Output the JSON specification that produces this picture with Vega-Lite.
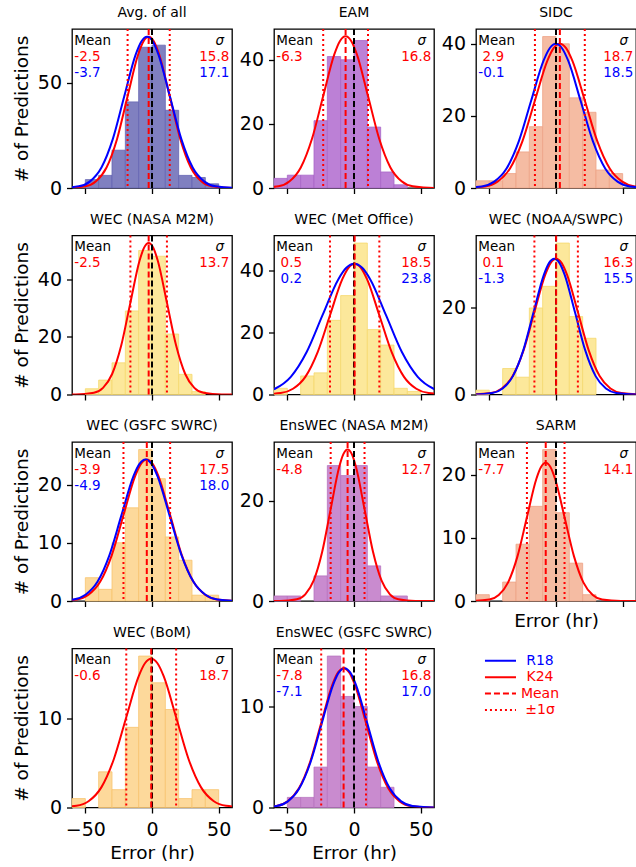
{
"$schema": "https://vega.github.io/schema/vega-lite/v6.json",
"autosize": "none",
"padding": {"left": 72, "top": 29, "right": 564, "bottom": 838},
"config": {
 "font": "DejaVu Sans",
 "view": {"stroke": "#000000", "strokeWidth": 1.3},
 "axis": {"grid": false, "domain": false, "tickColor": "#000000", "tickSize": 5.5, "tickWidth": 1.3, "labelFontSize": 19, "labelColor": "#000000", "titleFontSize": 18.5, "titleFontWeight": "normal", "titleColor": "#000000", "labelFlush": false, "labelOverlap": false},
 "axisX": {"labelPadding": 7, "titlePadding": 4},
 "axisY": {"labelPadding": 5, "titlePadding": 6},
 "title": {"fontSize": 14, "fontWeight": "normal", "anchor": "middle", "frame": "group", "offset": 8, "baseline": "alphabetic", "color": "#000000"}
},
"datasets": {
 "hist": [
  {"p":1,"x":-50,"x2":-40,"y":4},{"p":1,"x":-40,"x2":-30,"y":6},{"p":1,"x":-30,"x2":-20,"y":18},{"p":1,"x":-20,"x2":-10,"y":41},{"p":1,"x":-10,"x2":0,"y":67},{"p":1,"x":0,"x2":10,"y":68},{"p":1,"x":10,"x2":20,"y":37},{"p":1,"x":20,"x2":30,"y":6},{"p":1,"x":30,"x2":40,"y":5},{"p":1,"x":40,"x2":50,"y":2},
  {"p":2,"x":-60,"x2":-50,"y":3},{"p":2,"x":-50,"x2":-40,"y":4},{"p":2,"x":-40,"x2":-30,"y":4},{"p":2,"x":-30,"x2":-20,"y":21},{"p":2,"x":-20,"x2":-10,"y":41},{"p":2,"x":-10,"x2":0,"y":40},{"p":2,"x":0,"x2":10,"y":46},{"p":2,"x":10,"x2":20,"y":19},{"p":2,"x":20,"x2":30,"y":5},{"p":2,"x":30,"x2":40,"y":1},
  {"p":3,"x":-60,"x2":-50,"y":2},{"p":3,"x":-50,"x2":-40,"y":2},{"p":3,"x":-40,"x2":-30,"y":4},{"p":3,"x":-30,"x2":-20,"y":10},{"p":3,"x":-20,"x2":-10,"y":17},{"p":3,"x":-10,"x2":0,"y":42},{"p":3,"x":0,"x2":10,"y":40},{"p":3,"x":10,"x2":20,"y":25},{"p":3,"x":20,"x2":30,"y":21},{"p":3,"x":30,"x2":40,"y":5},{"p":3,"x":40,"x2":50,"y":4},
  {"p":4,"x":-50,"x2":-40,"y":2},{"p":4,"x":-40,"x2":-30,"y":5},{"p":4,"x":-30,"x2":-20,"y":11},{"p":4,"x":-20,"x2":-10,"y":29},{"p":4,"x":-10,"x2":0,"y":50},{"p":4,"x":0,"x2":10,"y":48},{"p":4,"x":10,"x2":20,"y":21},{"p":4,"x":20,"x2":30,"y":7},{"p":4,"x":30,"x2":40,"y":1},
  {"p":5,"x":-60,"x2":-50,"y":2},{"p":5,"x":-40,"x2":-30,"y":6},{"p":5,"x":-30,"x2":-20,"y":7},{"p":5,"x":-20,"x2":-10,"y":24},{"p":5,"x":-10,"x2":0,"y":32},{"p":5,"x":0,"x2":10,"y":49},{"p":5,"x":10,"x2":20,"y":21},{"p":5,"x":20,"x2":30,"y":16},{"p":5,"x":30,"x2":40,"y":2},{"p":5,"x":40,"x2":50,"y":1},
  {"p":6,"x":-60,"x2":-50,"y":1},{"p":6,"x":-40,"x2":-30,"y":6},{"p":6,"x":-30,"x2":-20,"y":4},{"p":6,"x":-20,"x2":-10,"y":20},{"p":6,"x":-10,"x2":0,"y":25},{"p":6,"x":0,"x2":10,"y":35},{"p":6,"x":10,"x2":20,"y":18},{"p":6,"x":20,"x2":30,"y":13},
  {"p":7,"x":-50,"x2":-40,"y":4},{"p":7,"x":-40,"x2":-30,"y":2},{"p":7,"x":-30,"x2":-20,"y":10},{"p":7,"x":-20,"x2":-10,"y":16},{"p":7,"x":-10,"x2":0,"y":26},{"p":7,"x":0,"x2":10,"y":21},{"p":7,"x":10,"x2":20,"y":11},{"p":7,"x":20,"x2":30,"y":7},{"p":7,"x":30,"x2":40,"y":1},{"p":7,"x":40,"x2":50,"y":1},
  {"p":8,"x":-60,"x2":-50,"y":1},{"p":8,"x":-50,"x2":-40,"y":1},{"p":8,"x":-30,"x2":-20,"y":5},{"p":8,"x":-20,"x2":-10,"y":27},{"p":8,"x":-10,"x2":0,"y":25},{"p":8,"x":0,"x2":10,"y":27},{"p":8,"x":10,"x2":20,"y":7},{"p":8,"x":20,"x2":30,"y":1},{"p":8,"x":30,"x2":40,"y":1},
  {"p":9,"x":-60,"x2":-50,"y":1},{"p":9,"x":-40,"x2":-30,"y":3},{"p":9,"x":-30,"x2":-20,"y":9},{"p":9,"x":-20,"x2":-10,"y":15},{"p":9,"x":-10,"x2":0,"y":24},{"p":9,"x":0,"x2":10,"y":14},{"p":9,"x":10,"x2":20,"y":6},{"p":9,"x":20,"x2":30,"y":1},
  {"p":10,"x":-60,"x2":-50,"y":1},{"p":10,"x":-40,"x2":-30,"y":4},{"p":10,"x":-30,"x2":-20,"y":2},{"p":10,"x":-20,"x2":-10,"y":9},{"p":10,"x":-10,"x2":0,"y":17},{"p":10,"x":0,"x2":10,"y":14},{"p":10,"x":10,"x2":20,"y":11},{"p":10,"x":20,"x2":30,"y":1},{"p":10,"x":30,"x2":40,"y":2},{"p":10,"x":40,"x2":50,"y":2},
  {"p":11,"x":-50,"x2":-40,"y":1},{"p":11,"x":-40,"x2":-30,"y":1},{"p":11,"x":-30,"x2":-20,"y":4},{"p":11,"x":-20,"x2":-10,"y":15},{"p":11,"x":-10,"x2":0,"y":11},{"p":11,"x":0,"x2":10,"y":10},{"p":11,"x":10,"x2":20,"y":4},{"p":11,"x":20,"x2":30,"y":2}
 ],
 "curves": [
  {"p":1,"s":"K24","x":-89.4,"y":0},{"p":1,"s":"K24","x":-65.7,"y":0.02},{"p":1,"s":"K24","x":-49.9,"y":0.8},{"p":1,"s":"K24","x":-42,"y":3.16},{"p":1,"s":"K24","x":-34.1,"y":9.74},{"p":1,"s":"K24","x":-26.2,"y":23.37},{"p":1,"s":"K24","x":-18.3,"y":43.67},{"p":1,"s":"K24","x":-10.4,"y":63.54},{"p":1,"s":"K24","x":-6.45,"y":69.78},{"p":1,"s":"K24","x":-2.5,"y":72},{"p":1,"s":"K24","x":1.45,"y":69.78},{"p":1,"s":"K24","x":5.4,"y":63.54},{"p":1,"s":"K24","x":13.3,"y":43.67},{"p":1,"s":"K24","x":21.2,"y":23.37},{"p":1,"s":"K24","x":29.1,"y":9.74},{"p":1,"s":"K24","x":37,"y":3.16},{"p":1,"s":"K24","x":44.9,"y":0.8},{"p":1,"s":"K24","x":60.7,"y":0.02},{"p":1,"s":"K24","x":84.4,"y":0},
  {"p":1,"s":"R18","x":-97.75,"y":0},{"p":1,"s":"R18","x":-72.1,"y":0.02},{"p":1,"s":"R18","x":-55,"y":0.8},{"p":1,"s":"R18","x":-46.45,"y":3.16},{"p":1,"s":"R18","x":-37.9,"y":9.74},{"p":1,"s":"R18","x":-29.35,"y":23.37},{"p":1,"s":"R18","x":-20.8,"y":43.67},{"p":1,"s":"R18","x":-12.25,"y":63.54},{"p":1,"s":"R18","x":-7.975,"y":69.78},{"p":1,"s":"R18","x":-3.7,"y":72},{"p":1,"s":"R18","x":0.575,"y":69.78},{"p":1,"s":"R18","x":4.85,"y":63.54},{"p":1,"s":"R18","x":13.4,"y":43.67},{"p":1,"s":"R18","x":21.95,"y":23.37},{"p":1,"s":"R18","x":30.5,"y":9.74},{"p":1,"s":"R18","x":39.05,"y":3.16},{"p":1,"s":"R18","x":47.6,"y":0.8},{"p":1,"s":"R18","x":64.7,"y":0.02},{"p":1,"s":"R18","x":90.35,"y":0},
  {"p":2,"s":"K24","x":-98.7,"y":0},{"p":2,"s":"K24","x":-73.5,"y":0.02},{"p":2,"s":"K24","x":-56.7,"y":0.53},{"p":2,"s":"K24","x":-48.3,"y":2.08},{"p":2,"s":"K24","x":-39.9,"y":6.4},{"p":2,"s":"K24","x":-31.5,"y":15.36},{"p":2,"s":"K24","x":-23.1,"y":28.69},{"p":2,"s":"K24","x":-14.7,"y":41.74},{"p":2,"s":"K24","x":-10.5,"y":45.84},{"p":2,"s":"K24","x":-6.3,"y":47.3},{"p":2,"s":"K24","x":-2.1,"y":45.84},{"p":2,"s":"K24","x":2.1,"y":41.74},{"p":2,"s":"K24","x":10.5,"y":28.69},{"p":2,"s":"K24","x":18.9,"y":15.36},{"p":2,"s":"K24","x":27.3,"y":6.4},{"p":2,"s":"K24","x":35.7,"y":2.08},{"p":2,"s":"K24","x":44.1,"y":0.53},{"p":2,"s":"K24","x":60.9,"y":0.02},{"p":2,"s":"K24","x":86.1,"y":0},
  {"p":3,"s":"K24","x":-99.95,"y":0},{"p":3,"s":"K24","x":-71.9,"y":0.01},{"p":3,"s":"K24","x":-53.2,"y":0.44},{"p":3,"s":"K24","x":-43.85,"y":1.76},{"p":3,"s":"K24","x":-34.5,"y":5.41},{"p":3,"s":"K24","x":-25.15,"y":12.99},{"p":3,"s":"K24","x":-15.8,"y":24.26},{"p":3,"s":"K24","x":-6.45,"y":35.3},{"p":3,"s":"K24","x":-1.775,"y":38.77},{"p":3,"s":"K24","x":2.9,"y":40},{"p":3,"s":"K24","x":7.575,"y":38.77},{"p":3,"s":"K24","x":12.25,"y":35.3},{"p":3,"s":"K24","x":21.6,"y":24.26},{"p":3,"s":"K24","x":30.95,"y":12.99},{"p":3,"s":"K24","x":40.3,"y":5.41},{"p":3,"s":"K24","x":49.65,"y":1.76},{"p":3,"s":"K24","x":59,"y":0.44},{"p":3,"s":"K24","x":77.7,"y":0.01},{"p":3,"s":"K24","x":105.75,"y":0},
  {"p":3,"s":"R18","x":-101.85,"y":0},{"p":3,"s":"R18","x":-74.1,"y":0.01},{"p":3,"s":"R18","x":-55.6,"y":0.44},{"p":3,"s":"R18","x":-46.35,"y":1.76},{"p":3,"s":"R18","x":-37.1,"y":5.41},{"p":3,"s":"R18","x":-27.85,"y":12.99},{"p":3,"s":"R18","x":-18.6,"y":24.26},{"p":3,"s":"R18","x":-9.35,"y":35.3},{"p":3,"s":"R18","x":-4.725,"y":38.77},{"p":3,"s":"R18","x":-0.1,"y":40},{"p":3,"s":"R18","x":4.525,"y":38.77},{"p":3,"s":"R18","x":9.15,"y":35.3},{"p":3,"s":"R18","x":18.4,"y":24.26},{"p":3,"s":"R18","x":27.65,"y":12.99},{"p":3,"s":"R18","x":36.9,"y":5.41},{"p":3,"s":"R18","x":46.15,"y":1.76},{"p":3,"s":"R18","x":55.4,"y":0.44},{"p":3,"s":"R18","x":73.9,"y":0.01},{"p":3,"s":"R18","x":101.65,"y":0},
  {"p":4,"s":"K24","x":-77.85,"y":0},{"p":4,"s":"K24","x":-57.3,"y":0.02},{"p":4,"s":"K24","x":-43.6,"y":0.58},{"p":4,"s":"K24","x":-36.75,"y":2.31},{"p":4,"s":"K24","x":-29.9,"y":7.12},{"p":4,"s":"K24","x":-23.05,"y":17.08},{"p":4,"s":"K24","x":-16.2,"y":31.9},{"p":4,"s":"K24","x":-9.35,"y":46.42},{"p":4,"s":"K24","x":-5.925,"y":50.98},{"p":4,"s":"K24","x":-2.5,"y":52.6},{"p":4,"s":"K24","x":0.925,"y":50.98},{"p":4,"s":"K24","x":4.35,"y":46.42},{"p":4,"s":"K24","x":11.2,"y":31.9},{"p":4,"s":"K24","x":18.05,"y":17.08},{"p":4,"s":"K24","x":24.9,"y":7.12},{"p":4,"s":"K24","x":31.75,"y":2.31},{"p":4,"s":"K24","x":38.6,"y":0.58},{"p":4,"s":"K24","x":52.3,"y":0.02},{"p":4,"s":"K24","x":72.85,"y":0},
  {"p":5,"s":"K24","x":-101.25,"y":0},{"p":5,"s":"K24","x":-73.5,"y":0.01},{"p":5,"s":"K24","x":-55,"y":0.47},{"p":5,"s":"K24","x":-45.75,"y":1.86},{"p":5,"s":"K24","x":-36.5,"y":5.72},{"p":5,"s":"K24","x":-27.25,"y":13.73},{"p":5,"s":"K24","x":-18,"y":25.66},{"p":5,"s":"K24","x":-8.75,"y":37.33},{"p":5,"s":"K24","x":-4.125,"y":41},{"p":5,"s":"K24","x":0.5,"y":42.3},{"p":5,"s":"K24","x":5.125,"y":41},{"p":5,"s":"K24","x":9.75,"y":37.33},{"p":5,"s":"K24","x":19,"y":25.66},{"p":5,"s":"K24","x":28.25,"y":13.73},{"p":5,"s":"K24","x":37.5,"y":5.72},{"p":5,"s":"K24","x":46.75,"y":1.86},{"p":5,"s":"K24","x":56,"y":0.47},{"p":5,"s":"K24","x":74.5,"y":0.01},{"p":5,"s":"K24","x":102.25,"y":0},
  {"p":5,"s":"R18","x":-130.7,"y":0},{"p":5,"s":"R18","x":-95,"y":0.01},{"p":5,"s":"R18","x":-71.2,"y":0.47},{"p":5,"s":"R18","x":-59.3,"y":1.86},{"p":5,"s":"R18","x":-47.4,"y":5.72},{"p":5,"s":"R18","x":-35.5,"y":13.73},{"p":5,"s":"R18","x":-23.6,"y":25.66},{"p":5,"s":"R18","x":-11.7,"y":37.33},{"p":5,"s":"R18","x":-5.75,"y":41},{"p":5,"s":"R18","x":0.2,"y":42.3},{"p":5,"s":"R18","x":6.15,"y":41},{"p":5,"s":"R18","x":12.1,"y":37.33},{"p":5,"s":"R18","x":24,"y":25.66},{"p":5,"s":"R18","x":35.9,"y":13.73},{"p":5,"s":"R18","x":47.8,"y":5.72},{"p":5,"s":"R18","x":59.7,"y":1.86},{"p":5,"s":"R18","x":71.6,"y":0.47},{"p":5,"s":"R18","x":95.4,"y":0.01},{"p":5,"s":"R18","x":131.1,"y":0},
  {"p":6,"s":"K24","x":-89.55,"y":0},{"p":6,"s":"K24","x":-65.1,"y":0.01},{"p":6,"s":"K24","x":-48.8,"y":0.35},{"p":6,"s":"K24","x":-40.65,"y":1.38},{"p":6,"s":"K24","x":-32.5,"y":4.25},{"p":6,"s":"K24","x":-24.35,"y":10.19},{"p":6,"s":"K24","x":-16.2,"y":19.05},{"p":6,"s":"K24","x":-8.05,"y":27.71},{"p":6,"s":"K24","x":-3.975,"y":30.43},{"p":6,"s":"K24","x":0.1,"y":31.4},{"p":6,"s":"K24","x":4.175,"y":30.43},{"p":6,"s":"K24","x":8.25,"y":27.71},{"p":6,"s":"K24","x":16.4,"y":19.05},{"p":6,"s":"K24","x":24.55,"y":10.19},{"p":6,"s":"K24","x":32.7,"y":4.25},{"p":6,"s":"K24","x":40.85,"y":1.38},{"p":6,"s":"K24","x":49,"y":0.35},{"p":6,"s":"K24","x":65.3,"y":0.01},{"p":6,"s":"K24","x":89.75,"y":0},
  {"p":6,"s":"R18","x":-86.55,"y":0},{"p":6,"s":"R18","x":-63.3,"y":0.01},{"p":6,"s":"R18","x":-47.8,"y":0.35},{"p":6,"s":"R18","x":-40.05,"y":1.38},{"p":6,"s":"R18","x":-32.3,"y":4.25},{"p":6,"s":"R18","x":-24.55,"y":10.19},{"p":6,"s":"R18","x":-16.8,"y":19.05},{"p":6,"s":"R18","x":-9.05,"y":27.71},{"p":6,"s":"R18","x":-5.175,"y":30.43},{"p":6,"s":"R18","x":-1.3,"y":31.4},{"p":6,"s":"R18","x":2.575,"y":30.43},{"p":6,"s":"R18","x":6.45,"y":27.71},{"p":6,"s":"R18","x":14.2,"y":19.05},{"p":6,"s":"R18","x":21.95,"y":10.19},{"p":6,"s":"R18","x":29.7,"y":4.25},{"p":6,"s":"R18","x":37.45,"y":1.38},{"p":6,"s":"R18","x":45.2,"y":0.35},{"p":6,"s":"R18","x":60.7,"y":0.01},{"p":6,"s":"R18","x":83.95,"y":0},
  {"p":7,"s":"K24","x":-100.15,"y":0},{"p":7,"s":"K24","x":-73.9,"y":0.01},{"p":7,"s":"K24","x":-56.4,"y":0.27},{"p":7,"s":"K24","x":-47.65,"y":1.07},{"p":7,"s":"K24","x":-38.9,"y":3.29},{"p":7,"s":"K24","x":-30.15,"y":7.89},{"p":7,"s":"K24","x":-21.4,"y":14.74},{"p":7,"s":"K24","x":-12.65,"y":21.45},{"p":7,"s":"K24","x":-8.275,"y":23.55},{"p":7,"s":"K24","x":-3.9,"y":24.3},{"p":7,"s":"K24","x":0.475,"y":23.55},{"p":7,"s":"K24","x":4.85,"y":21.45},{"p":7,"s":"K24","x":13.6,"y":14.74},{"p":7,"s":"K24","x":22.35,"y":7.89},{"p":7,"s":"K24","x":31.1,"y":3.29},{"p":7,"s":"K24","x":39.85,"y":1.07},{"p":7,"s":"K24","x":48.6,"y":0.27},{"p":7,"s":"K24","x":66.1,"y":0.01},{"p":7,"s":"K24","x":92.35,"y":0},
  {"p":7,"s":"R18","x":-103.9,"y":0},{"p":7,"s":"R18","x":-76.9,"y":0.01},{"p":7,"s":"R18","x":-58.9,"y":0.27},{"p":7,"s":"R18","x":-49.9,"y":1.07},{"p":7,"s":"R18","x":-40.9,"y":3.29},{"p":7,"s":"R18","x":-31.9,"y":7.89},{"p":7,"s":"R18","x":-22.9,"y":14.74},{"p":7,"s":"R18","x":-13.9,"y":21.45},{"p":7,"s":"R18","x":-9.4,"y":23.55},{"p":7,"s":"R18","x":-4.9,"y":24.3},{"p":7,"s":"R18","x":-0.4,"y":23.55},{"p":7,"s":"R18","x":4.1,"y":21.45},{"p":7,"s":"R18","x":13.1,"y":14.74},{"p":7,"s":"R18","x":22.1,"y":7.89},{"p":7,"s":"R18","x":31.1,"y":3.29},{"p":7,"s":"R18","x":40.1,"y":1.07},{"p":7,"s":"R18","x":49.1,"y":0.27},{"p":7,"s":"R18","x":67.1,"y":0.01},{"p":7,"s":"R18","x":94.1,"y":0},
  {"p":8,"s":"K24","x":-74.65,"y":0},{"p":8,"s":"K24","x":-55.6,"y":0.01},{"p":8,"s":"K24","x":-42.9,"y":0.34},{"p":8,"s":"K24","x":-36.55,"y":1.33},{"p":8,"s":"K24","x":-30.2,"y":4.09},{"p":8,"s":"K24","x":-23.85,"y":9.8},{"p":8,"s":"K24","x":-17.5,"y":18.32},{"p":8,"s":"K24","x":-11.15,"y":26.65},{"p":8,"s":"K24","x":-7.975,"y":29.27},{"p":8,"s":"K24","x":-4.8,"y":30.2},{"p":8,"s":"K24","x":-1.625,"y":29.27},{"p":8,"s":"K24","x":1.55,"y":26.65},{"p":8,"s":"K24","x":7.9,"y":18.32},{"p":8,"s":"K24","x":14.25,"y":9.8},{"p":8,"s":"K24","x":20.6,"y":4.09},{"p":8,"s":"K24","x":26.95,"y":1.33},{"p":8,"s":"K24","x":33.3,"y":0.34},{"p":8,"s":"K24","x":46,"y":0.01},{"p":8,"s":"K24","x":65.05,"y":0},
  {"p":9,"s":"K24","x":-85.25,"y":0},{"p":9,"s":"K24","x":-64.1,"y":0.01},{"p":9,"s":"K24","x":-50,"y":0.24},{"p":9,"s":"K24","x":-42.95,"y":0.96},{"p":9,"s":"K24","x":-35.9,"y":2.96},{"p":9,"s":"K24","x":-28.85,"y":7.11},{"p":9,"s":"K24","x":-21.8,"y":13.28},{"p":9,"s":"K24","x":-14.75,"y":19.33},{"p":9,"s":"K24","x":-11.225,"y":21.23},{"p":9,"s":"K24","x":-7.7,"y":21.9},{"p":9,"s":"K24","x":-4.175,"y":21.23},{"p":9,"s":"K24","x":-0.65,"y":19.33},{"p":9,"s":"K24","x":6.4,"y":13.28},{"p":9,"s":"K24","x":13.45,"y":7.11},{"p":9,"s":"K24","x":20.5,"y":2.96},{"p":9,"s":"K24","x":27.55,"y":0.96},{"p":9,"s":"K24","x":34.6,"y":0.24},{"p":9,"s":"K24","x":48.7,"y":0.01},{"p":9,"s":"K24","x":69.85,"y":0},
  {"p":10,"s":"K24","x":-103.45,"y":0},{"p":10,"s":"K24","x":-75.4,"y":0.01},{"p":10,"s":"K24","x":-56.7,"y":0.19},{"p":10,"s":"K24","x":-47.35,"y":0.73},{"p":10,"s":"K24","x":-38,"y":2.26},{"p":10,"s":"K24","x":-28.65,"y":5.42},{"p":10,"s":"K24","x":-19.3,"y":10.13},{"p":10,"s":"K24","x":-9.95,"y":14.74},{"p":10,"s":"K24","x":-5.275,"y":16.19},{"p":10,"s":"K24","x":-0.6,"y":16.7},{"p":10,"s":"K24","x":4.075,"y":16.19},{"p":10,"s":"K24","x":8.75,"y":14.74},{"p":10,"s":"K24","x":18.1,"y":10.13},{"p":10,"s":"K24","x":27.45,"y":5.42},{"p":10,"s":"K24","x":36.8,"y":2.26},{"p":10,"s":"K24","x":46.15,"y":0.73},{"p":10,"s":"K24","x":55.5,"y":0.19},{"p":10,"s":"K24","x":74.2,"y":0.01},{"p":10,"s":"K24","x":102.25,"y":0},
  {"p":11,"s":"K24","x":-100.2,"y":0},{"p":11,"s":"K24","x":-75,"y":0},{"p":11,"s":"K24","x":-58.2,"y":0.15},{"p":11,"s":"K24","x":-49.8,"y":0.61},{"p":11,"s":"K24","x":-41.4,"y":1.87},{"p":11,"s":"K24","x":-33,"y":4.48},{"p":11,"s":"K24","x":-24.6,"y":8.37},{"p":11,"s":"K24","x":-16.2,"y":12.18},{"p":11,"s":"K24","x":-12,"y":13.38},{"p":11,"s":"K24","x":-7.8,"y":13.8},{"p":11,"s":"K24","x":-3.6,"y":13.38},{"p":11,"s":"K24","x":0.6,"y":12.18},{"p":11,"s":"K24","x":9,"y":8.37},{"p":11,"s":"K24","x":17.4,"y":4.48},{"p":11,"s":"K24","x":25.8,"y":1.87},{"p":11,"s":"K24","x":34.2,"y":0.61},{"p":11,"s":"K24","x":42.6,"y":0.15},{"p":11,"s":"K24","x":59.4,"y":0},{"p":11,"s":"K24","x":84.6,"y":0},
  {"p":11,"s":"R18","x":-100.6,"y":0},{"p":11,"s":"R18","x":-75.1,"y":0},{"p":11,"s":"R18","x":-58.1,"y":0.15},{"p":11,"s":"R18","x":-49.6,"y":0.61},{"p":11,"s":"R18","x":-41.1,"y":1.87},{"p":11,"s":"R18","x":-32.6,"y":4.48},{"p":11,"s":"R18","x":-24.1,"y":8.37},{"p":11,"s":"R18","x":-15.6,"y":12.18},{"p":11,"s":"R18","x":-11.35,"y":13.38},{"p":11,"s":"R18","x":-7.1,"y":13.8},{"p":11,"s":"R18","x":-2.85,"y":13.38},{"p":11,"s":"R18","x":1.4,"y":12.18},{"p":11,"s":"R18","x":9.9,"y":8.37},{"p":11,"s":"R18","x":18.4,"y":4.48},{"p":11,"s":"R18","x":26.9,"y":1.87},{"p":11,"s":"R18","x":35.4,"y":0.61},{"p":11,"s":"R18","x":43.9,"y":0.15},{"p":11,"s":"R18","x":60.9,"y":0},{"p":11,"s":"R18","x":86.4,"y":0}
 ],
 "vl": [
  {"p":1,"s":"Mean","x":-2.5},{"p":1,"s":"±1σ","x":-18.3},{"p":1,"s":"±1σ","x":13.3},
  {"p":2,"s":"Mean","x":-6.3},{"p":2,"s":"±1σ","x":-23.1},{"p":2,"s":"±1σ","x":10.5},
  {"p":3,"s":"Mean","x":2.9},{"p":3,"s":"±1σ","x":-15.8},{"p":3,"s":"±1σ","x":21.6},
  {"p":4,"s":"Mean","x":-2.5},{"p":4,"s":"±1σ","x":-16.2},{"p":4,"s":"±1σ","x":11.2},
  {"p":5,"s":"Mean","x":0.5},{"p":5,"s":"±1σ","x":-18},{"p":5,"s":"±1σ","x":19},
  {"p":6,"s":"Mean","x":0.1},{"p":6,"s":"±1σ","x":-16.2},{"p":6,"s":"±1σ","x":16.4},
  {"p":7,"s":"Mean","x":-3.9},{"p":7,"s":"±1σ","x":-21.4},{"p":7,"s":"±1σ","x":13.6},
  {"p":8,"s":"Mean","x":-4.8},{"p":8,"s":"±1σ","x":-17.5},{"p":8,"s":"±1σ","x":7.9},
  {"p":9,"s":"Mean","x":-7.7},{"p":9,"s":"±1σ","x":-21.8},{"p":9,"s":"±1σ","x":6.4},
  {"p":10,"s":"Mean","x":-0.6},{"p":10,"s":"±1σ","x":-19.3},{"p":10,"s":"±1σ","x":18.1},
  {"p":11,"s":"Mean","x":-7.8},{"p":11,"s":"±1σ","x":-24.6},{"p":11,"s":"±1σ","x":9.0}
 ],
 "ann": [
  {"p":1,"side":"L","line":1,"s":"lab","t":"Mean"},{"p":1,"side":"L","line":2,"s":"K24","t":"-2.5"},{"p":1,"side":"L","line":3,"s":"R18","t":"-3.7"},{"p":1,"side":"S","line":1,"s":"lab","t":"σ"},{"p":1,"side":"R","line":2,"s":"K24","t":"15.8"},{"p":1,"side":"R","line":3,"s":"R18","t":"17.1"},
  {"p":2,"side":"L","line":1,"s":"lab","t":"Mean"},{"p":2,"side":"L","line":2,"s":"K24","t":"-6.3"},{"p":2,"side":"S","line":1,"s":"lab","t":"σ"},{"p":2,"side":"R","line":2,"s":"K24","t":"16.8"},
  {"p":3,"side":"L","line":1,"s":"lab","t":"Mean"},{"p":3,"side":"L","line":2,"s":"K24","t":"\u200b\u00a02.9"},{"p":3,"side":"L","line":3,"s":"R18","t":"-0.1"},{"p":3,"side":"S","line":1,"s":"lab","t":"σ"},{"p":3,"side":"R","line":2,"s":"K24","t":"18.7"},{"p":3,"side":"R","line":3,"s":"R18","t":"18.5"},
  {"p":4,"side":"L","line":1,"s":"lab","t":"Mean"},{"p":4,"side":"L","line":2,"s":"K24","t":"-2.5"},{"p":4,"side":"S","line":1,"s":"lab","t":"σ"},{"p":4,"side":"R","line":2,"s":"K24","t":"13.7"},
  {"p":5,"side":"L","line":1,"s":"lab","t":"Mean"},{"p":5,"side":"L","line":2,"s":"K24","t":"\u200b\u00a00.5"},{"p":5,"side":"L","line":3,"s":"R18","t":"\u200b\u00a00.2"},{"p":5,"side":"S","line":1,"s":"lab","t":"σ"},{"p":5,"side":"R","line":2,"s":"K24","t":"18.5"},{"p":5,"side":"R","line":3,"s":"R18","t":"23.8"},
  {"p":6,"side":"L","line":1,"s":"lab","t":"Mean"},{"p":6,"side":"L","line":2,"s":"K24","t":"\u200b\u00a00.1"},{"p":6,"side":"L","line":3,"s":"R18","t":"-1.3"},{"p":6,"side":"S","line":1,"s":"lab","t":"σ"},{"p":6,"side":"R","line":2,"s":"K24","t":"16.3"},{"p":6,"side":"R","line":3,"s":"R18","t":"15.5"},
  {"p":7,"side":"L","line":1,"s":"lab","t":"Mean"},{"p":7,"side":"L","line":2,"s":"K24","t":"-3.9"},{"p":7,"side":"L","line":3,"s":"R18","t":"-4.9"},{"p":7,"side":"S","line":1,"s":"lab","t":"σ"},{"p":7,"side":"R","line":2,"s":"K24","t":"17.5"},{"p":7,"side":"R","line":3,"s":"R18","t":"18.0"},
  {"p":8,"side":"L","line":1,"s":"lab","t":"Mean"},{"p":8,"side":"L","line":2,"s":"K24","t":"-4.8"},{"p":8,"side":"S","line":1,"s":"lab","t":"σ"},{"p":8,"side":"R","line":2,"s":"K24","t":"12.7"},
  {"p":9,"side":"L","line":1,"s":"lab","t":"Mean"},{"p":9,"side":"L","line":2,"s":"K24","t":"-7.7"},{"p":9,"side":"S","line":1,"s":"lab","t":"σ"},{"p":9,"side":"R","line":2,"s":"K24","t":"14.1"},
  {"p":10,"side":"L","line":1,"s":"lab","t":"Mean"},{"p":10,"side":"L","line":2,"s":"K24","t":"-0.6"},{"p":10,"side":"S","line":1,"s":"lab","t":"σ"},{"p":10,"side":"R","line":2,"s":"K24","t":"18.7"},
  {"p":11,"side":"L","line":1,"s":"lab","t":"Mean"},{"p":11,"side":"L","line":2,"s":"K24","t":"-7.8"},{"p":11,"side":"L","line":3,"s":"R18","t":"-7.1"},{"p":11,"side":"S","line":1,"s":"lab","t":"σ"},{"p":11,"side":"R","line":2,"s":"K24","t":"16.8"},{"p":11,"side":"R","line":3,"s":"R18","t":"17.0"}
 ],
 "leg": [{"s":"R18"},{"s":"K24"},{"s":"Mean"},{"s":"±1σ"}]
},
"columns": 3,
"bounds": "flush",
"spacing": {"row": 47.5, "column": 42},
"concat": [
 {"title":"Avg. of all","width":160,"height":159,"resolve":{"scale":{"x":"independent","y":"independent"}},
  "layer":[
   {"encoding":{"x":{"field":"x","type":"quantitative","scale":{"domain":[-60,60],"nice":false,"zero":false},"axis":{"values":[-50,0,50],"labels":false,"title":null}}},"resolve":{"scale":{"y":"independent"}},
    "layer":[
     {"data":{"name":"hist"},"transform":[{"filter":"datum.p==1"}],"mark":{"type":"bar","fill":"#8080c0","stroke":"#6464b2","strokeWidth":0.8},"encoding":{"x2":{"field":"x2"},"y":{"field":"y","type":"quantitative","scale":{"domain":[0,75.7],"nice":false},"axis":{"values":[0,50],"title":"# of Predictions"}},"y2":{"datum":0}}},
     {"data":{"name":"curves"},"transform":[{"filter":"datum.p==1&&datum.s=='K24'"}],"mark":{"type":"line","interpolate":"monotone","strokeWidth":2,"clip":true,"color":"#ff0000"},"encoding":{"y":{"field":"y","type":"quantitative","scale":{"domain":[0,75.7],"nice":false},"axis":null}}},
     {"data":{"name":"curves"},"transform":[{"filter":"datum.p==1&&datum.s=='R18'"}],"mark":{"type":"line","interpolate":"monotone","strokeWidth":2,"clip":true,"color":"#0000ff"},"encoding":{"y":{"field":"y","type":"quantitative","scale":{"domain":[0,75.7],"nice":false},"axis":null}}},
     {"data":{"name":"vl"},"transform":[{"filter":"datum.p==1&&datum.s=='Mean'"}],"mark":{"type":"rule","color":"#000000","strokeWidth":2,"strokeDash":[6,3]},"encoding":{"x":{"datum":0}}},
     {"data":{"name":"vl"},"transform":[{"filter":"datum.p==1"}],"mark":{"type":"rule","strokeWidth":2},"encoding":{"color":{"field":"s","type":"nominal","scale":{"domain":["R18","K24","Mean","±1σ","lab"],"range":["#0000ff","#ff0000","#ff0000","#ff0000","#000000"]},"legend":null},"strokeDash":{"field":"s","type":"nominal","scale":{"domain":["R18","K24","Mean","±1σ"],"range":[[1,0],[1,0],[6,3],[2,3]]},"legend":null}}}
    ]},
   {"data":{"name":"ann"},"transform":[{"filter":"datum.p==1&&datum.side=='L'"}],"mark":{"type":"text","align":"left","baseline":"alphabetic","fontSize":13.5},"encoding":{"x":{"field":"side","type":"nominal","scale":{"type":"point","domain":["L","R"],"range":[2.3,157.3],"padding":0},"axis":null},"y":{"field":"line","type":"quantitative","scale":{"domain":[0,10],"reverse":true,"nice":false,"zero":false},"axis":null},"text":{"field":"t"},"color":{"field":"s","type":"nominal","scale":{"domain":["R18","K24","Mean","±1σ","lab"],"range":["#0000ff","#ff0000","#ff0000","#ff0000","#000000"]},"legend":null}}},
   {"data":{"name":"ann"},"transform":[{"filter":"datum.p==1&&datum.side=='R'"}],"mark":{"type":"text","align":"right","baseline":"alphabetic","fontSize":13.5},"encoding":{"x":{"field":"side","type":"nominal","scale":{"type":"point","domain":["L","R"],"range":[2.3,157.3],"padding":0},"axis":null},"y":{"field":"line","type":"quantitative","scale":{"domain":[0,10],"reverse":true,"nice":false,"zero":false},"axis":null},"text":{"field":"t"},"color":{"field":"s","type":"nominal","scale":{"domain":["R18","K24","Mean","±1σ","lab"],"range":["#0000ff","#ff0000","#ff0000","#ff0000","#000000"]},"legend":null}}},
   {"data":{"name":"ann"},"transform":[{"filter":"datum.p==1&&datum.side=='S'"}],"mark":{"type":"text","align":"right","baseline":"alphabetic","fontSize":13.5,"fontStyle":"italic"},"encoding":{"x":{"field":"side","type":"nominal","scale":{"type":"point","domain":["S","R"],"range":[152,157.3],"padding":0},"axis":null},"y":{"field":"line","type":"quantitative","scale":{"domain":[0,10],"reverse":true,"nice":false,"zero":false},"axis":null},"text":{"field":"t"},"color":{"field":"s","type":"nominal","scale":{"domain":["R18","K24","Mean","±1σ","lab"],"range":["#0000ff","#ff0000","#ff0000","#ff0000","#000000"]},"legend":null}}}
  ]},
 {"title":"EAM","width":160,"height":159,"resolve":{"scale":{"x":"independent","y":"independent"}},
  "layer":[
   {"encoding":{"x":{"field":"x","type":"quantitative","scale":{"domain":[-60,60],"nice":false,"zero":false},"axis":{"values":[-50,0,50],"labels":false,"title":null}}},"resolve":{"scale":{"y":"independent"}},
    "layer":[
     {"data":{"name":"hist"},"transform":[{"filter":"datum.p==2"}],"mark":{"type":"bar","fill":"#bc80d6","stroke":"#a866c8","strokeWidth":0.8},"encoding":{"x2":{"field":"x2"},"y":{"field":"y","type":"quantitative","scale":{"domain":[0,49.6],"nice":false},"axis":{"values":[0,20,40],"title":null}},"y2":{"datum":0}}},
     {"data":{"name":"curves"},"transform":[{"filter":"datum.p==2&&datum.s=='K24'"}],"mark":{"type":"line","interpolate":"monotone","strokeWidth":2,"clip":true,"color":"#ff0000"},"encoding":{"y":{"field":"y","type":"quantitative","scale":{"domain":[0,49.6],"nice":false},"axis":null}}},
     {"data":{"name":"vl"},"transform":[{"filter":"datum.p==2&&datum.s=='Mean'"}],"mark":{"type":"rule","color":"#000000","strokeWidth":2,"strokeDash":[6,3]},"encoding":{"x":{"datum":0}}},
     {"data":{"name":"vl"},"transform":[{"filter":"datum.p==2"}],"mark":{"type":"rule","strokeWidth":2},"encoding":{"color":{"field":"s","type":"nominal","scale":{"domain":["R18","K24","Mean","±1σ","lab"],"range":["#0000ff","#ff0000","#ff0000","#ff0000","#000000"]},"legend":null},"strokeDash":{"field":"s","type":"nominal","scale":{"domain":["R18","K24","Mean","±1σ"],"range":[[1,0],[1,0],[6,3],[2,3]]},"legend":null}}}
    ]},
   {"data":{"name":"ann"},"transform":[{"filter":"datum.p==2&&datum.side=='L'"}],"mark":{"type":"text","align":"left","baseline":"alphabetic","fontSize":13.5},"encoding":{"x":{"field":"side","type":"nominal","scale":{"type":"point","domain":["L","R"],"range":[2.3,157.3],"padding":0},"axis":null},"y":{"field":"line","type":"quantitative","scale":{"domain":[0,10],"reverse":true,"nice":false,"zero":false},"axis":null},"text":{"field":"t"},"color":{"field":"s","type":"nominal","scale":{"domain":["R18","K24","Mean","±1σ","lab"],"range":["#0000ff","#ff0000","#ff0000","#ff0000","#000000"]},"legend":null}}},
   {"data":{"name":"ann"},"transform":[{"filter":"datum.p==2&&datum.side=='R'"}],"mark":{"type":"text","align":"right","baseline":"alphabetic","fontSize":13.5},"encoding":{"x":{"field":"side","type":"nominal","scale":{"type":"point","domain":["L","R"],"range":[2.3,157.3],"padding":0},"axis":null},"y":{"field":"line","type":"quantitative","scale":{"domain":[0,10],"reverse":true,"nice":false,"zero":false},"axis":null},"text":{"field":"t"},"color":{"field":"s","type":"nominal","scale":{"domain":["R18","K24","Mean","±1σ","lab"],"range":["#0000ff","#ff0000","#ff0000","#ff0000","#000000"]},"legend":null}}},
   {"data":{"name":"ann"},"transform":[{"filter":"datum.p==2&&datum.side=='S'"}],"mark":{"type":"text","align":"right","baseline":"alphabetic","fontSize":13.5,"fontStyle":"italic"},"encoding":{"x":{"field":"side","type":"nominal","scale":{"type":"point","domain":["S","R"],"range":[152,157.3],"padding":0},"axis":null},"y":{"field":"line","type":"quantitative","scale":{"domain":[0,10],"reverse":true,"nice":false,"zero":false},"axis":null},"text":{"field":"t"},"color":{"field":"s","type":"nominal","scale":{"domain":["R18","K24","Mean","±1σ","lab"],"range":["#0000ff","#ff0000","#ff0000","#ff0000","#000000"]},"legend":null}}}
  ]},
 {"title":"SIDC","width":160,"height":159,"resolve":{"scale":{"x":"independent","y":"independent"}},
  "layer":[
   {"encoding":{"x":{"field":"x","type":"quantitative","scale":{"domain":[-60,60],"nice":false,"zero":false},"axis":{"values":[-50,0,50],"labels":false,"title":null}}},"resolve":{"scale":{"y":"independent"}},
    "layer":[
     {"data":{"name":"hist"},"transform":[{"filter":"datum.p==3"}],"mark":{"type":"bar","fill":"#f5bca3","stroke":"#eea386","strokeWidth":0.8},"encoding":{"x2":{"field":"x2"},"y":{"field":"y","type":"quantitative","scale":{"domain":[0,44.1],"nice":false},"axis":{"values":[0,20,40],"title":null}},"y2":{"datum":0}}},
     {"data":{"name":"curves"},"transform":[{"filter":"datum.p==3&&datum.s=='K24'"}],"mark":{"type":"line","interpolate":"monotone","strokeWidth":2,"clip":true,"color":"#ff0000"},"encoding":{"y":{"field":"y","type":"quantitative","scale":{"domain":[0,44.1],"nice":false},"axis":null}}},
     {"data":{"name":"curves"},"transform":[{"filter":"datum.p==3&&datum.s=='R18'"}],"mark":{"type":"line","interpolate":"monotone","strokeWidth":2,"clip":true,"color":"#0000ff"},"encoding":{"y":{"field":"y","type":"quantitative","scale":{"domain":[0,44.1],"nice":false},"axis":null}}},
     {"data":{"name":"vl"},"transform":[{"filter":"datum.p==3&&datum.s=='Mean'"}],"mark":{"type":"rule","color":"#000000","strokeWidth":2,"strokeDash":[6,3]},"encoding":{"x":{"datum":0}}},
     {"data":{"name":"vl"},"transform":[{"filter":"datum.p==3"}],"mark":{"type":"rule","strokeWidth":2},"encoding":{"color":{"field":"s","type":"nominal","scale":{"domain":["R18","K24","Mean","±1σ","lab"],"range":["#0000ff","#ff0000","#ff0000","#ff0000","#000000"]},"legend":null},"strokeDash":{"field":"s","type":"nominal","scale":{"domain":["R18","K24","Mean","±1σ"],"range":[[1,0],[1,0],[6,3],[2,3]]},"legend":null}}}
    ]},
   {"data":{"name":"ann"},"transform":[{"filter":"datum.p==3&&datum.side=='L'"}],"mark":{"type":"text","align":"left","baseline":"alphabetic","fontSize":13.5},"encoding":{"x":{"field":"side","type":"nominal","scale":{"type":"point","domain":["L","R"],"range":[2.3,157.3],"padding":0},"axis":null},"y":{"field":"line","type":"quantitative","scale":{"domain":[0,10],"reverse":true,"nice":false,"zero":false},"axis":null},"text":{"field":"t"},"color":{"field":"s","type":"nominal","scale":{"domain":["R18","K24","Mean","±1σ","lab"],"range":["#0000ff","#ff0000","#ff0000","#ff0000","#000000"]},"legend":null}}},
   {"data":{"name":"ann"},"transform":[{"filter":"datum.p==3&&datum.side=='R'"}],"mark":{"type":"text","align":"right","baseline":"alphabetic","fontSize":13.5},"encoding":{"x":{"field":"side","type":"nominal","scale":{"type":"point","domain":["L","R"],"range":[2.3,157.3],"padding":0},"axis":null},"y":{"field":"line","type":"quantitative","scale":{"domain":[0,10],"reverse":true,"nice":false,"zero":false},"axis":null},"text":{"field":"t"},"color":{"field":"s","type":"nominal","scale":{"domain":["R18","K24","Mean","±1σ","lab"],"range":["#0000ff","#ff0000","#ff0000","#ff0000","#000000"]},"legend":null}}},
   {"data":{"name":"ann"},"transform":[{"filter":"datum.p==3&&datum.side=='S'"}],"mark":{"type":"text","align":"right","baseline":"alphabetic","fontSize":13.5,"fontStyle":"italic"},"encoding":{"x":{"field":"side","type":"nominal","scale":{"type":"point","domain":["S","R"],"range":[152,157.3],"padding":0},"axis":null},"y":{"field":"line","type":"quantitative","scale":{"domain":[0,10],"reverse":true,"nice":false,"zero":false},"axis":null},"text":{"field":"t"},"color":{"field":"s","type":"nominal","scale":{"domain":["R18","K24","Mean","±1σ","lab"],"range":["#0000ff","#ff0000","#ff0000","#ff0000","#000000"]},"legend":null}}}
  ]},
 {"title":"WEC (NASA M2M)","width":160,"height":159,"resolve":{"scale":{"x":"independent","y":"independent"}},
  "layer":[
   {"encoding":{"x":{"field":"x","type":"quantitative","scale":{"domain":[-60,60],"nice":false,"zero":false},"axis":{"values":[-50,0,50],"labels":false,"title":null}}},"resolve":{"scale":{"y":"independent"}},
    "layer":[
     {"data":{"name":"hist"},"transform":[{"filter":"datum.p==4"}],"mark":{"type":"bar","fill":"#fce89b","stroke":"#f5d86f","strokeWidth":0.8},"encoding":{"x2":{"field":"x2"},"y":{"field":"y","type":"quantitative","scale":{"domain":[0,55.2],"nice":false},"axis":{"values":[0,20,40],"title":"# of Predictions"}},"y2":{"datum":0}}},
     {"data":{"name":"curves"},"transform":[{"filter":"datum.p==4&&datum.s=='K24'"}],"mark":{"type":"line","interpolate":"monotone","strokeWidth":2,"clip":true,"color":"#ff0000"},"encoding":{"y":{"field":"y","type":"quantitative","scale":{"domain":[0,55.2],"nice":false},"axis":null}}},
     {"data":{"name":"vl"},"transform":[{"filter":"datum.p==4&&datum.s=='Mean'"}],"mark":{"type":"rule","color":"#000000","strokeWidth":2,"strokeDash":[6,3]},"encoding":{"x":{"datum":0}}},
     {"data":{"name":"vl"},"transform":[{"filter":"datum.p==4"}],"mark":{"type":"rule","strokeWidth":2},"encoding":{"color":{"field":"s","type":"nominal","scale":{"domain":["R18","K24","Mean","±1σ","lab"],"range":["#0000ff","#ff0000","#ff0000","#ff0000","#000000"]},"legend":null},"strokeDash":{"field":"s","type":"nominal","scale":{"domain":["R18","K24","Mean","±1σ"],"range":[[1,0],[1,0],[6,3],[2,3]]},"legend":null}}}
    ]},
   {"data":{"name":"ann"},"transform":[{"filter":"datum.p==4&&datum.side=='L'"}],"mark":{"type":"text","align":"left","baseline":"alphabetic","fontSize":13.5},"encoding":{"x":{"field":"side","type":"nominal","scale":{"type":"point","domain":["L","R"],"range":[2.3,157.3],"padding":0},"axis":null},"y":{"field":"line","type":"quantitative","scale":{"domain":[0,10],"reverse":true,"nice":false,"zero":false},"axis":null},"text":{"field":"t"},"color":{"field":"s","type":"nominal","scale":{"domain":["R18","K24","Mean","±1σ","lab"],"range":["#0000ff","#ff0000","#ff0000","#ff0000","#000000"]},"legend":null}}},
   {"data":{"name":"ann"},"transform":[{"filter":"datum.p==4&&datum.side=='R'"}],"mark":{"type":"text","align":"right","baseline":"alphabetic","fontSize":13.5},"encoding":{"x":{"field":"side","type":"nominal","scale":{"type":"point","domain":["L","R"],"range":[2.3,157.3],"padding":0},"axis":null},"y":{"field":"line","type":"quantitative","scale":{"domain":[0,10],"reverse":true,"nice":false,"zero":false},"axis":null},"text":{"field":"t"},"color":{"field":"s","type":"nominal","scale":{"domain":["R18","K24","Mean","±1σ","lab"],"range":["#0000ff","#ff0000","#ff0000","#ff0000","#000000"]},"legend":null}}},
   {"data":{"name":"ann"},"transform":[{"filter":"datum.p==4&&datum.side=='S'"}],"mark":{"type":"text","align":"right","baseline":"alphabetic","fontSize":13.5,"fontStyle":"italic"},"encoding":{"x":{"field":"side","type":"nominal","scale":{"type":"point","domain":["S","R"],"range":[152,157.3],"padding":0},"axis":null},"y":{"field":"line","type":"quantitative","scale":{"domain":[0,10],"reverse":true,"nice":false,"zero":false},"axis":null},"text":{"field":"t"},"color":{"field":"s","type":"nominal","scale":{"domain":["R18","K24","Mean","±1σ","lab"],"range":["#0000ff","#ff0000","#ff0000","#ff0000","#000000"]},"legend":null}}}
  ]},
 {"title":"WEC (Met Office)","width":160,"height":159,"resolve":{"scale":{"x":"independent","y":"independent"}},
  "layer":[
   {"encoding":{"x":{"field":"x","type":"quantitative","scale":{"domain":[-60,60],"nice":false,"zero":false},"axis":{"values":[-50,0,50],"labels":false,"title":null}}},"resolve":{"scale":{"y":"independent"}},
    "layer":[
     {"data":{"name":"hist"},"transform":[{"filter":"datum.p==5"}],"mark":{"type":"bar","fill":"#fce89b","stroke":"#f5d86f","strokeWidth":0.8},"encoding":{"x2":{"field":"x2"},"y":{"field":"y","type":"quantitative","scale":{"domain":[0,51.45],"nice":false},"axis":{"values":[0,20,40],"title":null}},"y2":{"datum":0}}},
     {"data":{"name":"curves"},"transform":[{"filter":"datum.p==5&&datum.s=='K24'"}],"mark":{"type":"line","interpolate":"monotone","strokeWidth":2,"clip":true,"color":"#ff0000"},"encoding":{"y":{"field":"y","type":"quantitative","scale":{"domain":[0,51.45],"nice":false},"axis":null}}},
     {"data":{"name":"curves"},"transform":[{"filter":"datum.p==5&&datum.s=='R18'"}],"mark":{"type":"line","interpolate":"monotone","strokeWidth":2,"clip":true,"color":"#0000ff"},"encoding":{"y":{"field":"y","type":"quantitative","scale":{"domain":[0,51.45],"nice":false},"axis":null}}},
     {"data":{"name":"vl"},"transform":[{"filter":"datum.p==5&&datum.s=='Mean'"}],"mark":{"type":"rule","color":"#000000","strokeWidth":2,"strokeDash":[6,3]},"encoding":{"x":{"datum":0}}},
     {"data":{"name":"vl"},"transform":[{"filter":"datum.p==5"}],"mark":{"type":"rule","strokeWidth":2},"encoding":{"color":{"field":"s","type":"nominal","scale":{"domain":["R18","K24","Mean","±1σ","lab"],"range":["#0000ff","#ff0000","#ff0000","#ff0000","#000000"]},"legend":null},"strokeDash":{"field":"s","type":"nominal","scale":{"domain":["R18","K24","Mean","±1σ"],"range":[[1,0],[1,0],[6,3],[2,3]]},"legend":null}}}
    ]},
   {"data":{"name":"ann"},"transform":[{"filter":"datum.p==5&&datum.side=='L'"}],"mark":{"type":"text","align":"left","baseline":"alphabetic","fontSize":13.5},"encoding":{"x":{"field":"side","type":"nominal","scale":{"type":"point","domain":["L","R"],"range":[2.3,157.3],"padding":0},"axis":null},"y":{"field":"line","type":"quantitative","scale":{"domain":[0,10],"reverse":true,"nice":false,"zero":false},"axis":null},"text":{"field":"t"},"color":{"field":"s","type":"nominal","scale":{"domain":["R18","K24","Mean","±1σ","lab"],"range":["#0000ff","#ff0000","#ff0000","#ff0000","#000000"]},"legend":null}}},
   {"data":{"name":"ann"},"transform":[{"filter":"datum.p==5&&datum.side=='R'"}],"mark":{"type":"text","align":"right","baseline":"alphabetic","fontSize":13.5},"encoding":{"x":{"field":"side","type":"nominal","scale":{"type":"point","domain":["L","R"],"range":[2.3,157.3],"padding":0},"axis":null},"y":{"field":"line","type":"quantitative","scale":{"domain":[0,10],"reverse":true,"nice":false,"zero":false},"axis":null},"text":{"field":"t"},"color":{"field":"s","type":"nominal","scale":{"domain":["R18","K24","Mean","±1σ","lab"],"range":["#0000ff","#ff0000","#ff0000","#ff0000","#000000"]},"legend":null}}},
   {"data":{"name":"ann"},"transform":[{"filter":"datum.p==5&&datum.side=='S'"}],"mark":{"type":"text","align":"right","baseline":"alphabetic","fontSize":13.5,"fontStyle":"italic"},"encoding":{"x":{"field":"side","type":"nominal","scale":{"type":"point","domain":["S","R"],"range":[152,157.3],"padding":0},"axis":null},"y":{"field":"line","type":"quantitative","scale":{"domain":[0,10],"reverse":true,"nice":false,"zero":false},"axis":null},"text":{"field":"t"},"color":{"field":"s","type":"nominal","scale":{"domain":["R18","K24","Mean","±1σ","lab"],"range":["#0000ff","#ff0000","#ff0000","#ff0000","#000000"]},"legend":null}}}
  ]},
 {"title":"WEC (NOAA/SWPC)","width":160,"height":159,"resolve":{"scale":{"x":"independent","y":"independent"}},
  "layer":[
   {"encoding":{"x":{"field":"x","type":"quantitative","scale":{"domain":[-60,60],"nice":false,"zero":false},"axis":{"values":[-50,0,50],"labels":false,"title":null}}},"resolve":{"scale":{"y":"independent"}},
    "layer":[
     {"data":{"name":"hist"},"transform":[{"filter":"datum.p==6"}],"mark":{"type":"bar","fill":"#fce89b","stroke":"#f5d86f","strokeWidth":0.8},"encoding":{"x2":{"field":"x2"},"y":{"field":"y","type":"quantitative","scale":{"domain":[0,36.75],"nice":false},"axis":{"values":[0,20],"title":null}},"y2":{"datum":0}}},
     {"data":{"name":"curves"},"transform":[{"filter":"datum.p==6&&datum.s=='K24'"}],"mark":{"type":"line","interpolate":"monotone","strokeWidth":2,"clip":true,"color":"#ff0000"},"encoding":{"y":{"field":"y","type":"quantitative","scale":{"domain":[0,36.75],"nice":false},"axis":null}}},
     {"data":{"name":"curves"},"transform":[{"filter":"datum.p==6&&datum.s=='R18'"}],"mark":{"type":"line","interpolate":"monotone","strokeWidth":2,"clip":true,"color":"#0000ff"},"encoding":{"y":{"field":"y","type":"quantitative","scale":{"domain":[0,36.75],"nice":false},"axis":null}}},
     {"data":{"name":"vl"},"transform":[{"filter":"datum.p==6&&datum.s=='Mean'"}],"mark":{"type":"rule","color":"#000000","strokeWidth":2,"strokeDash":[6,3]},"encoding":{"x":{"datum":0}}},
     {"data":{"name":"vl"},"transform":[{"filter":"datum.p==6"}],"mark":{"type":"rule","strokeWidth":2},"encoding":{"color":{"field":"s","type":"nominal","scale":{"domain":["R18","K24","Mean","±1σ","lab"],"range":["#0000ff","#ff0000","#ff0000","#ff0000","#000000"]},"legend":null},"strokeDash":{"field":"s","type":"nominal","scale":{"domain":["R18","K24","Mean","±1σ"],"range":[[1,0],[1,0],[6,3],[2,3]]},"legend":null}}}
    ]},
   {"data":{"name":"ann"},"transform":[{"filter":"datum.p==6&&datum.side=='L'"}],"mark":{"type":"text","align":"left","baseline":"alphabetic","fontSize":13.5},"encoding":{"x":{"field":"side","type":"nominal","scale":{"type":"point","domain":["L","R"],"range":[2.3,157.3],"padding":0},"axis":null},"y":{"field":"line","type":"quantitative","scale":{"domain":[0,10],"reverse":true,"nice":false,"zero":false},"axis":null},"text":{"field":"t"},"color":{"field":"s","type":"nominal","scale":{"domain":["R18","K24","Mean","±1σ","lab"],"range":["#0000ff","#ff0000","#ff0000","#ff0000","#000000"]},"legend":null}}},
   {"data":{"name":"ann"},"transform":[{"filter":"datum.p==6&&datum.side=='R'"}],"mark":{"type":"text","align":"right","baseline":"alphabetic","fontSize":13.5},"encoding":{"x":{"field":"side","type":"nominal","scale":{"type":"point","domain":["L","R"],"range":[2.3,157.3],"padding":0},"axis":null},"y":{"field":"line","type":"quantitative","scale":{"domain":[0,10],"reverse":true,"nice":false,"zero":false},"axis":null},"text":{"field":"t"},"color":{"field":"s","type":"nominal","scale":{"domain":["R18","K24","Mean","±1σ","lab"],"range":["#0000ff","#ff0000","#ff0000","#ff0000","#000000"]},"legend":null}}},
   {"data":{"name":"ann"},"transform":[{"filter":"datum.p==6&&datum.side=='S'"}],"mark":{"type":"text","align":"right","baseline":"alphabetic","fontSize":13.5,"fontStyle":"italic"},"encoding":{"x":{"field":"side","type":"nominal","scale":{"type":"point","domain":["S","R"],"range":[152,157.3],"padding":0},"axis":null},"y":{"field":"line","type":"quantitative","scale":{"domain":[0,10],"reverse":true,"nice":false,"zero":false},"axis":null},"text":{"field":"t"},"color":{"field":"s","type":"nominal","scale":{"domain":["R18","K24","Mean","±1σ","lab"],"range":["#0000ff","#ff0000","#ff0000","#ff0000","#000000"]},"legend":null}}}
  ]},
 {"title":"WEC (GSFC SWRC)","width":160,"height":159,"resolve":{"scale":{"x":"independent","y":"independent"}},
  "layer":[
   {"encoding":{"x":{"field":"x","type":"quantitative","scale":{"domain":[-60,60],"nice":false,"zero":false},"axis":{"values":[-50,0,50],"labels":false,"title":null}}},"resolve":{"scale":{"y":"independent"}},
    "layer":[
     {"data":{"name":"hist"},"transform":[{"filter":"datum.p==7"}],"mark":{"type":"bar","fill":"#fdd99b","stroke":"#f8c46e","strokeWidth":0.8},"encoding":{"x2":{"field":"x2"},"y":{"field":"y","type":"quantitative","scale":{"domain":[0,27.3],"nice":false},"axis":{"values":[0,10,20],"title":"# of Predictions"}},"y2":{"datum":0}}},
     {"data":{"name":"curves"},"transform":[{"filter":"datum.p==7&&datum.s=='K24'"}],"mark":{"type":"line","interpolate":"monotone","strokeWidth":2,"clip":true,"color":"#ff0000"},"encoding":{"y":{"field":"y","type":"quantitative","scale":{"domain":[0,27.3],"nice":false},"axis":null}}},
     {"data":{"name":"curves"},"transform":[{"filter":"datum.p==7&&datum.s=='R18'"}],"mark":{"type":"line","interpolate":"monotone","strokeWidth":2,"clip":true,"color":"#0000ff"},"encoding":{"y":{"field":"y","type":"quantitative","scale":{"domain":[0,27.3],"nice":false},"axis":null}}},
     {"data":{"name":"vl"},"transform":[{"filter":"datum.p==7&&datum.s=='Mean'"}],"mark":{"type":"rule","color":"#000000","strokeWidth":2,"strokeDash":[6,3]},"encoding":{"x":{"datum":0}}},
     {"data":{"name":"vl"},"transform":[{"filter":"datum.p==7"}],"mark":{"type":"rule","strokeWidth":2},"encoding":{"color":{"field":"s","type":"nominal","scale":{"domain":["R18","K24","Mean","±1σ","lab"],"range":["#0000ff","#ff0000","#ff0000","#ff0000","#000000"]},"legend":null},"strokeDash":{"field":"s","type":"nominal","scale":{"domain":["R18","K24","Mean","±1σ"],"range":[[1,0],[1,0],[6,3],[2,3]]},"legend":null}}}
    ]},
   {"data":{"name":"ann"},"transform":[{"filter":"datum.p==7&&datum.side=='L'"}],"mark":{"type":"text","align":"left","baseline":"alphabetic","fontSize":13.5},"encoding":{"x":{"field":"side","type":"nominal","scale":{"type":"point","domain":["L","R"],"range":[2.3,157.3],"padding":0},"axis":null},"y":{"field":"line","type":"quantitative","scale":{"domain":[0,10],"reverse":true,"nice":false,"zero":false},"axis":null},"text":{"field":"t"},"color":{"field":"s","type":"nominal","scale":{"domain":["R18","K24","Mean","±1σ","lab"],"range":["#0000ff","#ff0000","#ff0000","#ff0000","#000000"]},"legend":null}}},
   {"data":{"name":"ann"},"transform":[{"filter":"datum.p==7&&datum.side=='R'"}],"mark":{"type":"text","align":"right","baseline":"alphabetic","fontSize":13.5},"encoding":{"x":{"field":"side","type":"nominal","scale":{"type":"point","domain":["L","R"],"range":[2.3,157.3],"padding":0},"axis":null},"y":{"field":"line","type":"quantitative","scale":{"domain":[0,10],"reverse":true,"nice":false,"zero":false},"axis":null},"text":{"field":"t"},"color":{"field":"s","type":"nominal","scale":{"domain":["R18","K24","Mean","±1σ","lab"],"range":["#0000ff","#ff0000","#ff0000","#ff0000","#000000"]},"legend":null}}},
   {"data":{"name":"ann"},"transform":[{"filter":"datum.p==7&&datum.side=='S'"}],"mark":{"type":"text","align":"right","baseline":"alphabetic","fontSize":13.5,"fontStyle":"italic"},"encoding":{"x":{"field":"side","type":"nominal","scale":{"type":"point","domain":["S","R"],"range":[152,157.3],"padding":0},"axis":null},"y":{"field":"line","type":"quantitative","scale":{"domain":[0,10],"reverse":true,"nice":false,"zero":false},"axis":null},"text":{"field":"t"},"color":{"field":"s","type":"nominal","scale":{"domain":["R18","K24","Mean","±1σ","lab"],"range":["#0000ff","#ff0000","#ff0000","#ff0000","#000000"]},"legend":null}}}
  ]},
 {"title":"EnsWEC (NASA M2M)","width":160,"height":159,"resolve":{"scale":{"x":"independent","y":"independent"}},
  "layer":[
   {"encoding":{"x":{"field":"x","type":"quantitative","scale":{"domain":[-60,60],"nice":false,"zero":false},"axis":{"values":[-50,0,50],"labels":false,"title":null}}},"resolve":{"scale":{"y":"independent"}},
    "layer":[
     {"data":{"name":"hist"},"transform":[{"filter":"datum.p==8"}],"mark":{"type":"bar","fill":"#c98bcf","stroke":"#b874bf","strokeWidth":0.8},"encoding":{"x2":{"field":"x2"},"y":{"field":"y","type":"quantitative","scale":{"domain":[0,31.7],"nice":false},"axis":{"values":[0,20],"title":null}},"y2":{"datum":0}}},
     {"data":{"name":"curves"},"transform":[{"filter":"datum.p==8&&datum.s=='K24'"}],"mark":{"type":"line","interpolate":"monotone","strokeWidth":2,"clip":true,"color":"#ff0000"},"encoding":{"y":{"field":"y","type":"quantitative","scale":{"domain":[0,31.7],"nice":false},"axis":null}}},
     {"data":{"name":"vl"},"transform":[{"filter":"datum.p==8&&datum.s=='Mean'"}],"mark":{"type":"rule","color":"#000000","strokeWidth":2,"strokeDash":[6,3]},"encoding":{"x":{"datum":0}}},
     {"data":{"name":"vl"},"transform":[{"filter":"datum.p==8"}],"mark":{"type":"rule","strokeWidth":2},"encoding":{"color":{"field":"s","type":"nominal","scale":{"domain":["R18","K24","Mean","±1σ","lab"],"range":["#0000ff","#ff0000","#ff0000","#ff0000","#000000"]},"legend":null},"strokeDash":{"field":"s","type":"nominal","scale":{"domain":["R18","K24","Mean","±1σ"],"range":[[1,0],[1,0],[6,3],[2,3]]},"legend":null}}}
    ]},
   {"data":{"name":"ann"},"transform":[{"filter":"datum.p==8&&datum.side=='L'"}],"mark":{"type":"text","align":"left","baseline":"alphabetic","fontSize":13.5},"encoding":{"x":{"field":"side","type":"nominal","scale":{"type":"point","domain":["L","R"],"range":[2.3,157.3],"padding":0},"axis":null},"y":{"field":"line","type":"quantitative","scale":{"domain":[0,10],"reverse":true,"nice":false,"zero":false},"axis":null},"text":{"field":"t"},"color":{"field":"s","type":"nominal","scale":{"domain":["R18","K24","Mean","±1σ","lab"],"range":["#0000ff","#ff0000","#ff0000","#ff0000","#000000"]},"legend":null}}},
   {"data":{"name":"ann"},"transform":[{"filter":"datum.p==8&&datum.side=='R'"}],"mark":{"type":"text","align":"right","baseline":"alphabetic","fontSize":13.5},"encoding":{"x":{"field":"side","type":"nominal","scale":{"type":"point","domain":["L","R"],"range":[2.3,157.3],"padding":0},"axis":null},"y":{"field":"line","type":"quantitative","scale":{"domain":[0,10],"reverse":true,"nice":false,"zero":false},"axis":null},"text":{"field":"t"},"color":{"field":"s","type":"nominal","scale":{"domain":["R18","K24","Mean","±1σ","lab"],"range":["#0000ff","#ff0000","#ff0000","#ff0000","#000000"]},"legend":null}}},
   {"data":{"name":"ann"},"transform":[{"filter":"datum.p==8&&datum.side=='S'"}],"mark":{"type":"text","align":"right","baseline":"alphabetic","fontSize":13.5,"fontStyle":"italic"},"encoding":{"x":{"field":"side","type":"nominal","scale":{"type":"point","domain":["S","R"],"range":[152,157.3],"padding":0},"axis":null},"y":{"field":"line","type":"quantitative","scale":{"domain":[0,10],"reverse":true,"nice":false,"zero":false},"axis":null},"text":{"field":"t"},"color":{"field":"s","type":"nominal","scale":{"domain":["R18","K24","Mean","±1σ","lab"],"range":["#0000ff","#ff0000","#ff0000","#ff0000","#000000"]},"legend":null}}}
  ]},
 {"title":"SARM","width":160,"height":159,"resolve":{"scale":{"x":"independent","y":"independent"}},
  "layer":[
   {"encoding":{"x":{"field":"x","type":"quantitative","scale":{"domain":[-60,60],"nice":false,"zero":false},"axis":{"values":[-50,0,50],"labels":false,"title":"Error (hr)"}}},"resolve":{"scale":{"y":"independent"}},
    "layer":[
     {"data":{"name":"hist"},"transform":[{"filter":"datum.p==9"}],"mark":{"type":"bar","fill":"#f5bca3","stroke":"#eea386","strokeWidth":0.8},"encoding":{"x2":{"field":"x2"},"y":{"field":"y","type":"quantitative","scale":{"domain":[0,25.2],"nice":false},"axis":{"values":[0,10,20],"title":null}},"y2":{"datum":0}}},
     {"data":{"name":"curves"},"transform":[{"filter":"datum.p==9&&datum.s=='K24'"}],"mark":{"type":"line","interpolate":"monotone","strokeWidth":2,"clip":true,"color":"#ff0000"},"encoding":{"y":{"field":"y","type":"quantitative","scale":{"domain":[0,25.2],"nice":false},"axis":null}}},
     {"data":{"name":"vl"},"transform":[{"filter":"datum.p==9&&datum.s=='Mean'"}],"mark":{"type":"rule","color":"#000000","strokeWidth":2,"strokeDash":[6,3]},"encoding":{"x":{"datum":0}}},
     {"data":{"name":"vl"},"transform":[{"filter":"datum.p==9"}],"mark":{"type":"rule","strokeWidth":2},"encoding":{"color":{"field":"s","type":"nominal","scale":{"domain":["R18","K24","Mean","±1σ","lab"],"range":["#0000ff","#ff0000","#ff0000","#ff0000","#000000"]},"legend":null},"strokeDash":{"field":"s","type":"nominal","scale":{"domain":["R18","K24","Mean","±1σ"],"range":[[1,0],[1,0],[6,3],[2,3]]},"legend":null}}}
    ]},
   {"data":{"name":"ann"},"transform":[{"filter":"datum.p==9&&datum.side=='L'"}],"mark":{"type":"text","align":"left","baseline":"alphabetic","fontSize":13.5},"encoding":{"x":{"field":"side","type":"nominal","scale":{"type":"point","domain":["L","R"],"range":[2.3,157.3],"padding":0},"axis":null},"y":{"field":"line","type":"quantitative","scale":{"domain":[0,10],"reverse":true,"nice":false,"zero":false},"axis":null},"text":{"field":"t"},"color":{"field":"s","type":"nominal","scale":{"domain":["R18","K24","Mean","±1σ","lab"],"range":["#0000ff","#ff0000","#ff0000","#ff0000","#000000"]},"legend":null}}},
   {"data":{"name":"ann"},"transform":[{"filter":"datum.p==9&&datum.side=='R'"}],"mark":{"type":"text","align":"right","baseline":"alphabetic","fontSize":13.5},"encoding":{"x":{"field":"side","type":"nominal","scale":{"type":"point","domain":["L","R"],"range":[2.3,157.3],"padding":0},"axis":null},"y":{"field":"line","type":"quantitative","scale":{"domain":[0,10],"reverse":true,"nice":false,"zero":false},"axis":null},"text":{"field":"t"},"color":{"field":"s","type":"nominal","scale":{"domain":["R18","K24","Mean","±1σ","lab"],"range":["#0000ff","#ff0000","#ff0000","#ff0000","#000000"]},"legend":null}}},
   {"data":{"name":"ann"},"transform":[{"filter":"datum.p==9&&datum.side=='S'"}],"mark":{"type":"text","align":"right","baseline":"alphabetic","fontSize":13.5,"fontStyle":"italic"},"encoding":{"x":{"field":"side","type":"nominal","scale":{"type":"point","domain":["S","R"],"range":[152,157.3],"padding":0},"axis":null},"y":{"field":"line","type":"quantitative","scale":{"domain":[0,10],"reverse":true,"nice":false,"zero":false},"axis":null},"text":{"field":"t"},"color":{"field":"s","type":"nominal","scale":{"domain":["R18","K24","Mean","±1σ","lab"],"range":["#0000ff","#ff0000","#ff0000","#ff0000","#000000"]},"legend":null}}}
  ]},
 {"title":"WEC (BoM)","width":160,"height":159,"resolve":{"scale":{"x":"independent","y":"independent"}},
  "layer":[
   {"encoding":{"x":{"field":"x","type":"quantitative","scale":{"domain":[-60,60],"nice":false,"zero":false},"axis":{"values":[-50,0,50],"title":"Error (hr)"}}},"resolve":{"scale":{"y":"independent"}},
    "layer":[
     {"data":{"name":"hist"},"transform":[{"filter":"datum.p==10"}],"mark":{"type":"bar","fill":"#fdd99b","stroke":"#f8c46e","strokeWidth":0.8},"encoding":{"x2":{"field":"x2"},"y":{"field":"y","type":"quantitative","scale":{"domain":[0,17.85],"nice":false},"axis":{"values":[0,10],"title":"# of Predictions"}},"y2":{"datum":0}}},
     {"data":{"name":"curves"},"transform":[{"filter":"datum.p==10&&datum.s=='K24'"}],"mark":{"type":"line","interpolate":"monotone","strokeWidth":2,"clip":true,"color":"#ff0000"},"encoding":{"y":{"field":"y","type":"quantitative","scale":{"domain":[0,17.85],"nice":false},"axis":null}}},
     {"data":{"name":"vl"},"transform":[{"filter":"datum.p==10&&datum.s=='Mean'"}],"mark":{"type":"rule","color":"#000000","strokeWidth":2,"strokeDash":[6,3]},"encoding":{"x":{"datum":0}}},
     {"data":{"name":"vl"},"transform":[{"filter":"datum.p==10"}],"mark":{"type":"rule","strokeWidth":2},"encoding":{"color":{"field":"s","type":"nominal","scale":{"domain":["R18","K24","Mean","±1σ","lab"],"range":["#0000ff","#ff0000","#ff0000","#ff0000","#000000"]},"legend":null},"strokeDash":{"field":"s","type":"nominal","scale":{"domain":["R18","K24","Mean","±1σ"],"range":[[1,0],[1,0],[6,3],[2,3]]},"legend":null}}}
    ]},
   {"data":{"name":"ann"},"transform":[{"filter":"datum.p==10&&datum.side=='L'"}],"mark":{"type":"text","align":"left","baseline":"alphabetic","fontSize":13.5},"encoding":{"x":{"field":"side","type":"nominal","scale":{"type":"point","domain":["L","R"],"range":[2.3,157.3],"padding":0},"axis":null},"y":{"field":"line","type":"quantitative","scale":{"domain":[0,10],"reverse":true,"nice":false,"zero":false},"axis":null},"text":{"field":"t"},"color":{"field":"s","type":"nominal","scale":{"domain":["R18","K24","Mean","±1σ","lab"],"range":["#0000ff","#ff0000","#ff0000","#ff0000","#000000"]},"legend":null}}},
   {"data":{"name":"ann"},"transform":[{"filter":"datum.p==10&&datum.side=='R'"}],"mark":{"type":"text","align":"right","baseline":"alphabetic","fontSize":13.5},"encoding":{"x":{"field":"side","type":"nominal","scale":{"type":"point","domain":["L","R"],"range":[2.3,157.3],"padding":0},"axis":null},"y":{"field":"line","type":"quantitative","scale":{"domain":[0,10],"reverse":true,"nice":false,"zero":false},"axis":null},"text":{"field":"t"},"color":{"field":"s","type":"nominal","scale":{"domain":["R18","K24","Mean","±1σ","lab"],"range":["#0000ff","#ff0000","#ff0000","#ff0000","#000000"]},"legend":null}}},
   {"data":{"name":"ann"},"transform":[{"filter":"datum.p==10&&datum.side=='S'"}],"mark":{"type":"text","align":"right","baseline":"alphabetic","fontSize":13.5,"fontStyle":"italic"},"encoding":{"x":{"field":"side","type":"nominal","scale":{"type":"point","domain":["S","R"],"range":[152,157.3],"padding":0},"axis":null},"y":{"field":"line","type":"quantitative","scale":{"domain":[0,10],"reverse":true,"nice":false,"zero":false},"axis":null},"text":{"field":"t"},"color":{"field":"s","type":"nominal","scale":{"domain":["R18","K24","Mean","±1σ","lab"],"range":["#0000ff","#ff0000","#ff0000","#ff0000","#000000"]},"legend":null}}}
  ]},
 {"title":"EnsWEC (GSFC SWRC)","width":160,"height":159,"resolve":{"scale":{"x":"independent","y":"independent"}},
  "layer":[
   {"encoding":{"x":{"field":"x","type":"quantitative","scale":{"domain":[-60,60],"nice":false,"zero":false},"axis":{"values":[-50,0,50],"title":"Error (hr)"}}},"resolve":{"scale":{"y":"independent"}},
    "layer":[
     {"data":{"name":"hist"},"transform":[{"filter":"datum.p==11"}],"mark":{"type":"bar","fill":"#c98bcf","stroke":"#b874bf","strokeWidth":0.8},"encoding":{"x2":{"field":"x2"},"y":{"field":"y","type":"quantitative","scale":{"domain":[0,15.75],"nice":false},"axis":{"values":[0,10],"title":null}},"y2":{"datum":0}}},
     {"data":{"name":"curves"},"transform":[{"filter":"datum.p==11&&datum.s=='K24'"}],"mark":{"type":"line","interpolate":"monotone","strokeWidth":2,"clip":true,"color":"#ff0000"},"encoding":{"y":{"field":"y","type":"quantitative","scale":{"domain":[0,15.75],"nice":false},"axis":null}}},
     {"data":{"name":"curves"},"transform":[{"filter":"datum.p==11&&datum.s=='R18'"}],"mark":{"type":"line","interpolate":"monotone","strokeWidth":2,"clip":true,"color":"#0000ff"},"encoding":{"y":{"field":"y","type":"quantitative","scale":{"domain":[0,15.75],"nice":false},"axis":null}}},
     {"data":{"name":"vl"},"transform":[{"filter":"datum.p==11&&datum.s=='Mean'"}],"mark":{"type":"rule","color":"#000000","strokeWidth":2,"strokeDash":[6,3]},"encoding":{"x":{"datum":0}}},
     {"data":{"name":"vl"},"transform":[{"filter":"datum.p==11"}],"mark":{"type":"rule","strokeWidth":2},"encoding":{"color":{"field":"s","type":"nominal","scale":{"domain":["R18","K24","Mean","±1σ","lab"],"range":["#0000ff","#ff0000","#ff0000","#ff0000","#000000"]},"legend":null},"strokeDash":{"field":"s","type":"nominal","scale":{"domain":["R18","K24","Mean","±1σ"],"range":[[1,0],[1,0],[6,3],[2,3]]},"legend":null}}}
    ]},
   {"data":{"name":"ann"},"transform":[{"filter":"datum.p==11&&datum.side=='L'"}],"mark":{"type":"text","align":"left","baseline":"alphabetic","fontSize":13.5},"encoding":{"x":{"field":"side","type":"nominal","scale":{"type":"point","domain":["L","R"],"range":[2.3,157.3],"padding":0},"axis":null},"y":{"field":"line","type":"quantitative","scale":{"domain":[0,10],"reverse":true,"nice":false,"zero":false},"axis":null},"text":{"field":"t"},"color":{"field":"s","type":"nominal","scale":{"domain":["R18","K24","Mean","±1σ","lab"],"range":["#0000ff","#ff0000","#ff0000","#ff0000","#000000"]},"legend":null}}},
   {"data":{"name":"ann"},"transform":[{"filter":"datum.p==11&&datum.side=='R'"}],"mark":{"type":"text","align":"right","baseline":"alphabetic","fontSize":13.5},"encoding":{"x":{"field":"side","type":"nominal","scale":{"type":"point","domain":["L","R"],"range":[2.3,157.3],"padding":0},"axis":null},"y":{"field":"line","type":"quantitative","scale":{"domain":[0,10],"reverse":true,"nice":false,"zero":false},"axis":null},"text":{"field":"t"},"color":{"field":"s","type":"nominal","scale":{"domain":["R18","K24","Mean","±1σ","lab"],"range":["#0000ff","#ff0000","#ff0000","#ff0000","#000000"]},"legend":null}}},
   {"data":{"name":"ann"},"transform":[{"filter":"datum.p==11&&datum.side=='S'"}],"mark":{"type":"text","align":"right","baseline":"alphabetic","fontSize":13.5,"fontStyle":"italic"},"encoding":{"x":{"field":"side","type":"nominal","scale":{"type":"point","domain":["S","R"],"range":[152,157.3],"padding":0},"axis":null},"y":{"field":"line","type":"quantitative","scale":{"domain":[0,10],"reverse":true,"nice":false,"zero":false},"axis":null},"text":{"field":"t"},"color":{"field":"s","type":"nominal","scale":{"domain":["R18","K24","Mean","±1σ","lab"],"range":["#0000ff","#ff0000","#ff0000","#ff0000","#000000"]},"legend":null}}}
  ]},
 {"width":160,"height":159,"view":{"stroke":null},"data":{"name":"leg"},
  "layer":[
   {"mark":{"type":"rule","strokeWidth":2},"encoding":{"x":{"datum":0.056,"type":"quantitative","scale":{"domain":[0,1],"nice":false,"zero":false},"axis":null},"x2":{"datum":0.25},"y":{"field":"s","type":"nominal","scale":{"type":"point","domain":["R18","K24","Mean","±1σ"],"range":[12.2,61.5],"padding":0},"axis":null},"color":{"field":"s","type":"nominal","scale":{"domain":["R18","K24","Mean","±1σ","lab"],"range":["#0000ff","#ff0000","#ff0000","#ff0000","#000000"]},"legend":null},"strokeDash":{"field":"s","type":"nominal","scale":{"domain":["R18","K24","Mean","±1σ"],"range":[[1,0],[1,0],[6,3],[2,3]]},"legend":null}}},
   {"mark":{"type":"text","align":"center","baseline":"middle","fontSize":14},"encoding":{"x":{"datum":0.4,"type":"quantitative","scale":{"domain":[0,1],"nice":false,"zero":false},"axis":null},"y":{"field":"s","type":"nominal","scale":{"type":"point","domain":["R18","K24","Mean","±1σ"],"range":[12.2,61.5],"padding":0},"axis":null},"text":{"field":"s"},"color":{"field":"s","type":"nominal","scale":{"domain":["R18","K24","Mean","±1σ","lab"],"range":["#0000ff","#ff0000","#ff0000","#ff0000","#000000"]},"legend":null}}}
  ]}
]
}
